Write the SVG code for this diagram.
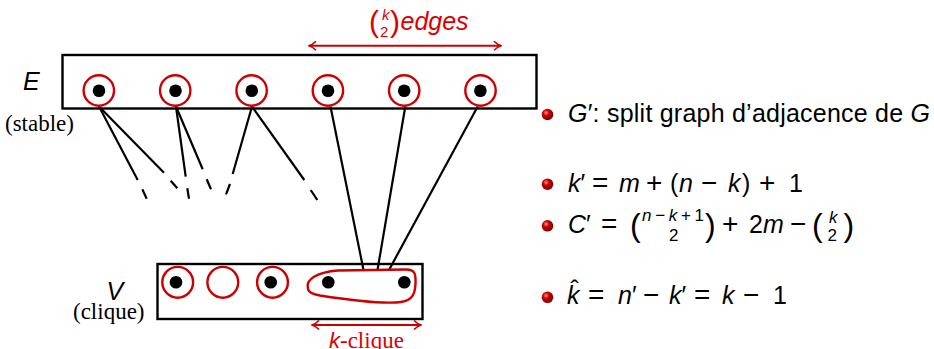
<svg xmlns="http://www.w3.org/2000/svg" width="934" height="349" viewBox="0 0 934 349">
<style>
.box{fill:none;stroke:#000;stroke-width:2.4}
.ring{fill:none;stroke:#cc0000;stroke-width:2.4}
.dot{fill:#000}
.edge{stroke:#000;stroke-width:2.2;fill:none;stroke-linecap:butt}
.arr{stroke:#cc0000;stroke-width:2;fill:none}
.math{font-family:"Liberation Sans",Arial,sans-serif;font-size:25px;fill:#000}
.op{font-size:28px}
.it{font-style:italic}
.red{fill:#dd0000}
.serif{font-family:"Liberation Serif","Times New Roman",serif;font-size:23px;fill:#000}
.small{font-family:"Liberation Sans",Arial,sans-serif;font-size:17px}
.paren{font-family:"Liberation Sans",Arial,sans-serif;font-size:32px}
</style>
<defs>
<marker id="ah" viewBox="-8 -5 9 10" refX="0" refY="0" markerWidth="9" markerHeight="10" markerUnits="userSpaceOnUse" orient="auto-start-reverse">
<path d="M-7,-4.5 C-4,-1.5 -1.5,-0.4 0,0 C-1.5,0.4 -4,1.5 -7,4.5" fill="none" stroke="#cc0000" stroke-width="1.6"/>
</marker>
<radialGradient id="ball" cx="0.38" cy="0.35" r="0.7">
<stop offset="0" stop-color="#ff9a9a"/>
<stop offset="0.35" stop-color="#d40000"/>
<stop offset="1" stop-color="#6a0000"/>
</radialGradient>
</defs>

<g id="connectors">
<line class="edge" x1="99" y1="106.5" x2="137.7" y2="180"/>
<line class="edge" x1="142.3" y1="189.3" x2="146.7" y2="198.7"/>
<line class="edge" x1="99" y1="106.5" x2="164" y2="172.7"/>
<line class="edge" x1="170.7" y1="180.7" x2="177.3" y2="188.3"/>
<line class="edge" x1="176" y1="106.5" x2="185.7" y2="176.7"/>
<line class="edge" x1="187.3" y1="188.3" x2="189" y2="198.7"/>
<line class="edge" x1="176" y1="106.5" x2="202.7" y2="169.3"/>
<line class="edge" x1="206.7" y1="179.3" x2="211" y2="189.3"/>
<line class="edge" x1="252" y1="106.5" x2="232.7" y2="174"/>
<line class="edge" x1="230" y1="184" x2="226" y2="194.3"/>
<line class="edge" x1="252" y1="106.5" x2="304.3" y2="180"/>
<line class="edge" x1="310.7" y1="190" x2="317.3" y2="200"/>
<line class="edge" x1="330.5" y1="106.5" x2="363.5" y2="270"/>
<line class="edge" x1="405.3" y1="106.5" x2="377.5" y2="270"/>
<line class="edge" x1="477.7" y1="106.5" x2="389" y2="270"/>
<line class="arr" x1="309" y1="45.7" x2="501" y2="45.7" marker-start="url(#ah)" marker-end="url(#ah)"/>
<line class="arr" x1="312" y1="325" x2="421" y2="325" marker-start="url(#ah)" marker-end="url(#ah)"/>
</g>

<g id="E">
<rect class="box" x="62.5" y="55" width="474" height="53.5"/>
<text class="math it" x="23" y="90" font-size="20">E</text>
<text class="serif" x="5" y="131">(stable)</text>
</g>
<g id="e1"><circle class="ring" cx="98.8" cy="90.5" r="15.2"/><circle class="dot" cx="99" cy="90.7" r="6.3"/></g>
<g id="e2"><circle class="ring" cx="175.2" cy="90.5" r="15.2"/><circle class="dot" cx="175.5" cy="90.7" r="6.3"/></g>
<g id="e3"><circle class="ring" cx="251.6" cy="90.5" r="15.2"/><circle class="dot" cx="251.8" cy="90.7" r="6.3"/></g>
<g id="e4"><circle class="ring" cx="327.9" cy="90.5" r="15.2"/><circle class="dot" cx="328" cy="90.7" r="6.3"/></g>
<g id="e5"><circle class="ring" cx="404.2" cy="90.5" r="15.2"/><circle class="dot" cx="404.2" cy="90.7" r="6.3"/></g>
<g id="e6"><circle class="ring" cx="480.5" cy="90.5" r="15.2"/><circle class="dot" cx="480.4" cy="90.7" r="6.3"/></g>

<g id="V">
<rect class="box" x="157.5" y="264" width="265" height="55"/>
<text class="math it" x="106.5" y="299.5" font-size="21">V</text>
<text class="serif" x="73" y="318.5">(clique)</text>
</g>
<g id="v1"><circle class="ring" cx="177.7" cy="282.3" r="15.4"/><circle class="dot" cx="176" cy="282.3" r="6.3"/></g>
<g id="v2"><circle class="ring" cx="222.8" cy="282.3" r="15.4"/></g>
<g id="v3"><circle class="ring" cx="272.5" cy="282.3" r="15.4"/><circle class="dot" cx="270.7" cy="282.3" r="6.3"/></g>
<g id="clique">
<path class="ring" d="M308,289 C305,279 318,272 338,270.5 L406,269.5 C415,269.5 416,274 415.5,284 C415,297 410,302 396,302.5 C372,303.5 342,299 320,295.5 C312,294 308.5,292 308,289 Z"/>
<circle class="dot" cx="328.3" cy="282.3" r="6.3"/>
<circle class="dot" cx="404.3" cy="282.3" r="6.3"/>
</g>

<g id="label-edges">
<text class="red" x="369" y="32" font-family="Liberation Sans, Arial, sans-serif" font-size="30">(</text>
<text class="red it" x="382" y="19.5" font-family="Liberation Sans, Arial, sans-serif" font-size="15">k</text>
<text class="red" x="380" y="37" font-family="Liberation Sans, Arial, sans-serif" font-size="15">2</text>
<text class="red" x="390" y="32" font-family="Liberation Sans, Arial, sans-serif" font-size="30">)</text>
<text class="math it red" x="400.5" y="30" font-size="20">edges</text>
</g>
<g id="label-kclique">
<text x="329" y="347.5" font-family="Liberation Sans, Arial, sans-serif" font-style="italic" font-size="22" fill="#dd0000">k<tspan font-family="Liberation Serif, Times New Roman, serif" font-style="normal" font-size="23">-clique</tspan></text>
</g>

<g id="bullets">
<circle cx="547.5" cy="114.5" r="5.8" fill="url(#ball)"/>
<circle cx="547.5" cy="184.2" r="5.8" fill="url(#ball)"/>
<circle cx="547.5" cy="225.8" r="5.8" fill="url(#ball)"/>
<circle cx="547.5" cy="297.3" r="5.8" fill="url(#ball)"/>
<text class="math" x="568" y="121.7" textLength="362" lengthAdjust="spacing"><tspan class="it">G</tspan>′: split graph d’adjacence de <tspan class="it">G</tspan></text>
<text class="math"><tspan class="it" x="568" y="191.7">k</tspan><tspan>′</tspan><tspan class="op" x="592">=</tspan><tspan class="it" x="619">m</tspan><tspan class="op" x="646">+</tspan><tspan x="670">(</tspan><tspan class="it" x="679">n</tspan><tspan class="op" x="701">−</tspan><tspan class="it" x="728">k</tspan><tspan x="742">)</tspan><tspan class="op" x="759">+</tspan><tspan x="789">1</tspan></text>
<text class="math" x="568" y="233.3"><tspan class="it">C</tspan>′</text>
<text class="math op" x="601" y="233.3">=</text>
<text class="paren" x="630" y="236">(</text>
<text class="small it" x="642" y="220.5" textLength="62" lengthAdjust="spacing">n<tspan font-style="normal">−</tspan>k<tspan font-style="normal">+1</tspan></text>
<text class="small" x="669" y="241">2</text>
<text class="paren" x="705" y="236">)</text>
<text class="math op" x="722" y="233.3">+</text>
<text class="math" x="749" y="233.3">2<tspan class="it">m</tspan></text>
<text class="math op" x="790" y="233.3">−</text>
<text class="paren" x="812" y="236">(</text>
<text class="small it" x="829" y="222.5">k</text>
<text class="small" x="827.5" y="241">2</text>
<text class="paren" x="843.5" y="236">)</text>
<text class="math" x="570.5" y="297.5" font-size="22">ˆ</text>
<text class="math"><tspan class="it" x="567" y="304">k</tspan><tspan class="op" x="588">=</tspan><tspan class="it" x="618">n</tspan><tspan>′</tspan><tspan class="op" x="643">−</tspan><tspan class="it" x="669">k</tspan><tspan>′</tspan><tspan class="op" x="694">=</tspan><tspan class="it" x="722">k</tspan><tspan class="op" x="743">−</tspan><tspan x="773">1</tspan></text>
</g>
</svg>
